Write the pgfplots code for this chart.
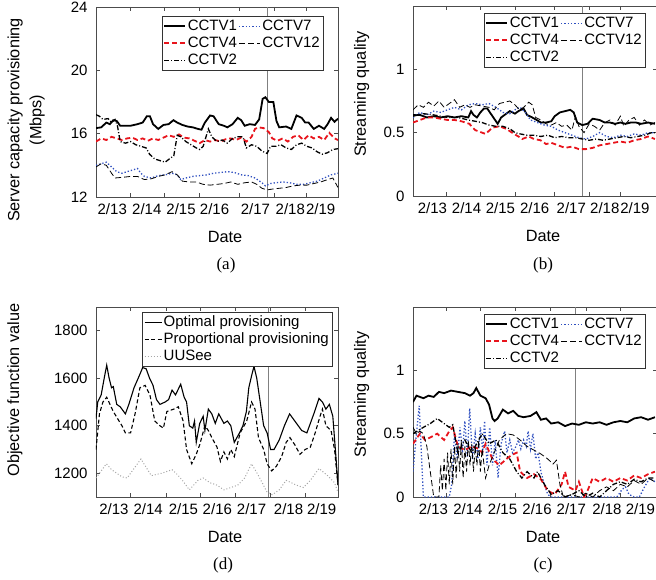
\documentclass[border=0pt]{standalone}
\usepackage{pgfplots}
\pgfplotsset{compat=1.18}
\usepackage{fontspec}
\setmainfont{Liberation Sans}
\newfontfamily\capfont{Liberation Serif}
\definecolor{cred}{HTML}{E8141C}
\definecolor{cblue}{HTML}{3050C0}
\newcommand{\fs}{\fontsize{15}{18}\selectfont}
\newcommand{\fl}{\fontsize{16.3}{19}\selectfont}
\pgfplotsset{
  every axis/.append style={
    scale only axis, width=242pt, height=190pt,
    xmin=0, xmax=7,
    axis line style={black!70, line width=0.6pt},
    tick style={black!70, line width=0.6pt},
    major tick length=4pt, tick align=inside,
    ticklabel style={font=\fs},
    xticklabel style={yshift=-3pt},
    yticklabel style={xshift=-5pt},
    label style={font=\fl},
    /pgf/number format/assume math mode=true,
    /pgf/number format/1000 sep={},
    xticklabels={},
    extra x tick style={major tick length=0pt},
    extra x tick labels={2/13,2/14,2/15,2/16,2/17,2/18,2/19},
    xlabel={Date},
    xlabel style={at={(axis description cs:0.5,0)}, anchor=center, yshift=-40pt, xshift=8pt},
    legend columns=2,
    legend style={font=\fs, draw=black!80, fill=white, inner sep=1.5pt,
      legend cell align=left,
      nodes={inner sep=1.5pt, text height=11pt, text depth=3pt},
      /tikz/every even column/.append style={column sep=0pt}},
    legend image code/.code={\draw[#1] (0pt,0pt) -- (21pt,0pt);},
  },
}
\tikzset{
  s1/.style={black, line width=1.8pt},
  s7/.style={cblue, line width=1.3pt, dotted},
  s4/.style={cred, line width=1.8pt, dash pattern=on 5pt off 3pt},
  s12/.style={black, line width=0.8pt, dash pattern=on 6pt off 3pt},
  s2/.style={black, line width=1.3pt, dash pattern=on 5pt off 2pt on 1pt off 2pt},
  vl/.style={gray, line width=0.7pt},
}
\begin{document}
\begin{tikzpicture}
\path[use as bounding box] (0,0) rectangle (656pt,-580pt);
% ---------------- (a)
\begin{axis}[at={(96pt,-197pt)}, anchor=south west,
  ymin=12, ymax=24, ytick={12,16,20,24},
  xtick={0.98,1.97,2.98,4.14,5.15,6.07},
  extra x ticks={0.47,1.47,2.46,3.43,4.61,5.62,6.50},
  ylabel={Server capacity provisioning\\[3pt](Mbps)},
  ylabel style={at={(axis description cs:-0.289,0.405)}, anchor=center, align=center},
  legend style={at={(1,1)}, anchor=north east, xshift=-15pt, yshift=-9pt},
]
\addplot[vl, forget plot] coordinates {(4.95,12) (4.95,24)};
\addplot[s1] coordinates {(0,16.35) (0.15,16.4) (0.3,16.7) (0.4,16.6) (0.5,16.85) (0.6,16.8) (0.7,16.5) (0.85,16.5) (1.0,16.5) (1.2,16.6) (1.35,16.7) (1.47,17.1) (1.56,17.1) (1.65,16.6) (1.8,16.3) (1.95,16.55) (2.1,16.6) (2.24,16.85) (2.35,16.7) (2.5,16.55) (2.65,16.45) (2.8,16.4) (2.95,16.3) (3.05,16.25) (3.15,16.7) (3.3,17.15) (3.4,17.1) (3.55,16.6) (3.7,16.5) (3.8,16.4) (3.95,16.6) (4.1,17.0) (4.2,16.85) (4.3,16.5) (4.45,16.6) (4.6,16.55) (4.72,16.9) (4.82,18.2) (4.9,18.3) (5.0,18.0) (5.13,18.0) (5.22,16.8) (5.3,16.4) (5.5,16.45) (5.65,16.3) (5.8,17.15) (5.95,17.0) (6.05,16.7) (6.15,16.7) (6.3,16.3) (6.45,16.5) (6.6,16.3) (6.7,16.6) (6.8,17.0) (6.9,16.75) (7.0,16.95)};
\addlegendentry{CCTV1}
\addplot[s7] coordinates {(0,14.0) (0.15,14.1) (0.3,14.2) (0.45,13.9) (0.6,13.6) (0.75,13.5) (0.9,13.6) (1.05,13.7) (1.2,13.8) (1.3,13.5) (1.4,13.3) (1.6,13.2) (1.8,13.35) (2.0,13.4) (2.2,13.5) (2.35,13.4) (2.45,13.1) (2.6,13.2) (2.8,13.3) (3.0,13.35) (3.2,13.4) (3.4,13.5) (3.6,13.55) (3.8,13.6) (4.0,13.55) (4.2,13.4) (4.4,13.35) (4.6,13.2) (4.8,12.9) (4.9,12.7) (5.05,12.85) (5.2,12.9) (5.4,12.95) (5.6,12.9) (5.8,12.8) (6.0,12.8) (6.2,12.9) (6.4,13.0) (6.6,13.2) (6.8,13.4) (7.0,13.5)};
\addlegendentry{CCTV7}
\addplot[s4] coordinates {(0,15.5) (0.15,15.7) (0.3,15.6) (0.45,15.8) (0.6,15.7) (0.75,15.6) (0.9,15.7) (1.05,15.75) (1.2,15.6) (1.35,15.7) (1.5,15.55) (1.65,15.7) (1.8,15.6) (1.95,15.75) (2.1,15.9) (2.25,15.8) (2.4,15.95) (2.55,15.75) (2.7,15.7) (2.85,15.55) (3.0,15.4) (3.15,15.6) (3.3,15.5) (3.45,15.6) (3.6,15.5) (3.75,15.65) (3.9,15.7) (4.05,15.6) (4.2,15.75) (4.35,15.5) (4.5,15.8) (4.6,16.3) (4.7,16.4) (4.85,16.35) (5.0,16.1) (5.1,15.7) (5.25,15.55) (5.4,15.7) (5.55,15.5) (5.7,15.8) (5.85,15.9) (6.0,15.6) (6.15,15.9) (6.3,15.7) (6.45,15.8) (6.6,15.6) (6.75,16.05) (6.9,15.7) (7.0,15.6)};
\addlegendentry{CCTV4}
\addplot[s12] coordinates {(0,13.9) (0.15,14.1) (0.3,14.0) (0.45,13.5) (0.55,13.2) (0.8,13.25) (1.0,13.3) (1.2,13.3) (1.4,13.1) (1.6,13.15) (1.8,13.3) (2.0,13.4) (2.2,13.6) (2.35,13.4) (2.5,13.0) (2.7,12.95) (2.9,12.95) (3.1,12.8) (3.3,12.75) (3.5,12.8) (3.7,12.85) (3.9,12.95) (4.1,12.8) (4.3,12.9) (4.5,12.95) (4.65,12.8) (4.8,12.55) (4.95,12.45) (5.1,12.5) (5.3,12.55) (5.5,12.6) (5.7,12.7) (5.9,12.75) (6.1,12.75) (6.3,12.85) (6.5,12.95) (6.7,13.1) (6.85,13.2) (6.95,12.8) (7.0,12.6)};
\addlegendentry{CCTV12}
\addplot[s2] coordinates {(0,17.2) (0.1,17.1) (0.2,16.9) (0.35,16.95) (0.45,16.7) (0.55,16.9) (0.62,16.5) (0.7,15.5) (0.85,15.4) (1.0,15.5) (1.15,15.3) (1.3,15.2) (1.45,15.1) (1.55,14.7) (1.7,14.4) (1.85,14.3) (2.0,14.2) (2.15,14.45) (2.25,14.6) (2.35,15.9) (2.45,15.8) (2.6,15.5) (2.75,15.3) (2.9,15.1) (3.0,15.0) (3.1,15.2) (3.25,16.3) (3.35,15.8) (3.5,15.5) (3.65,15.6) (3.8,15.4) (3.95,15.7) (4.1,15.8) (4.25,15.8) (4.35,15.1) (4.5,15.3) (4.65,15.2) (4.8,14.9) (4.95,14.75) (5.05,15.2) (5.2,15.2) (5.35,15.3) (5.5,15.1) (5.65,15.0) (5.8,15.3) (5.95,15.4) (6.1,15.2) (6.25,15.1) (6.4,14.85) (6.55,14.7) (6.7,14.8) (6.85,15.0) (7.0,15.05)};
\addlegendentry{CCTV2}
\end{axis}
% ---------------- (b)
\begin{axis}[at={(413pt,-196pt)}, anchor=south west, width=244pt, xmax=7.06,
  ymin=0, ymax=1.5, ytick={0,0.5,1}, yticklabels={0,0.5,1},
  xtick={0.95,1.95,2.96,4.1,5.1,6.0},
  extra x ticks={0.56,1.55,2.53,3.52,4.58,5.55,6.42},
  ylabel={Streaming quality},
  ylabel style={at={(axis description cs:-0.21,0.537)}, anchor=center},
  legend style={at={(1,1)}, anchor=north east, xshift=-12pt, yshift=-7pt},
]
\addplot[vl, forget plot] coordinates {(4.91,0) (4.91,1.5)};
\addplot[s1] coordinates {(0,0.64) (0.2,0.64) (0.4,0.62) (0.6,0.63) (0.8,0.62) (1.0,0.63) (1.2,0.62) (1.4,0.63) (1.6,0.62) (1.68,0.67) (1.75,0.64) (1.85,0.62) (1.95,0.66) (2.05,0.69) (2.15,0.69) (2.3,0.63) (2.45,0.57) (2.55,0.62) (2.7,0.65) (2.8,0.67) (2.95,0.65) (3.05,0.67) (3.2,0.69) (3.3,0.64) (3.45,0.62) (3.58,0.6) (3.7,0.58) (3.85,0.58) (4.0,0.59) (4.1,0.63) (4.25,0.66) (4.4,0.67) (4.55,0.68) (4.65,0.66) (4.75,0.58) (4.9,0.56) (5.05,0.57) (5.2,0.61) (5.4,0.6) (5.55,0.58) (5.7,0.58) (5.85,0.57) (6.0,0.58) (6.15,0.57) (6.3,0.58) (6.45,0.58) (6.6,0.57) (6.8,0.58) (7.0,0.57)};
\addlegendentry{CCTV1}
\addplot[s7] coordinates {(0,0.62) (0.2,0.66) (0.4,0.64) (0.6,0.67) (0.8,0.66) (1.0,0.68) (1.2,0.7) (1.4,0.68) (1.6,0.72) (1.8,0.73) (2.0,0.72) (2.2,0.73) (2.4,0.7) (2.6,0.66) (2.8,0.65) (3.0,0.69) (3.1,0.7) (3.25,0.66) (3.4,0.6) (3.6,0.58) (3.8,0.56) (4.0,0.55) (4.2,0.52) (4.4,0.5) (4.6,0.48) (4.8,0.46) (5.0,0.45) (5.2,0.47) (5.4,0.5) (5.6,0.47) (5.8,0.46) (6.0,0.48) (6.2,0.47) (6.4,0.49) (6.6,0.48) (6.8,0.5) (7.0,0.5)};
\addlegendentry{CCTV7}
\addplot[s4] coordinates {(0,0.58) (0.2,0.6) (0.4,0.62) (0.6,0.62) (0.8,0.61) (1.0,0.6) (1.2,0.6) (1.4,0.59) (1.63,0.57) (1.8,0.52) (2.0,0.5) (2.1,0.49) (2.3,0.54) (2.5,0.55) (2.7,0.53) (2.92,0.49) (3.05,0.47) (3.16,0.45) (3.35,0.47) (3.5,0.45) (3.69,0.44) (3.85,0.41) (4.0,0.42) (4.2,0.4) (4.4,0.38) (4.6,0.39) (4.8,0.37) (5.0,0.37) (5.2,0.38) (5.4,0.4) (5.6,0.41) (5.8,0.42) (6.0,0.43) (6.2,0.42) (6.4,0.44) (6.6,0.45) (6.8,0.47) (7.0,0.45)};
\addlegendentry{CCTV4}
\addplot[s12] coordinates {(0,0.68) (0.15,0.72) (0.3,0.7) (0.45,0.74) (0.6,0.71) (0.75,0.75) (0.9,0.7) (1.05,0.73) (1.2,0.76) (1.35,0.7) (1.5,0.72) (1.65,0.7) (1.8,0.72) (2.0,0.71) (2.2,0.7) (2.35,0.68) (2.5,0.73) (2.65,0.74) (2.8,0.75) (2.95,0.72) (3.08,0.68) (3.2,0.7) (3.35,0.74) (3.45,0.72) (3.55,0.62) (3.7,0.6) (3.85,0.57) (4.0,0.56) (4.15,0.58) (4.3,0.55) (4.45,0.56) (4.6,0.52) (4.7,0.63) (4.8,0.55) (4.95,0.5) (5.1,0.57) (5.25,0.55) (5.4,0.52) (5.55,0.58) (5.7,0.6) (5.85,0.56) (6.0,0.63) (6.1,0.55) (6.25,0.6) (6.4,0.62) (6.55,0.56) (6.7,0.6) (6.85,0.56) (7.0,0.58)};
\addlegendentry{CCTV12}
\addplot[s2] coordinates {(0,0.63) (0.3,0.65) (0.6,0.64) (1.0,0.62) (1.3,0.62) (1.6,0.6) (2.0,0.58) (2.2,0.56) (2.4,0.55) (2.6,0.55) (2.81,0.53) (2.95,0.5) (3.1,0.49) (3.3,0.48) (3.5,0.48) (3.7,0.47) (3.9,0.48) (4.1,0.46) (4.3,0.47) (4.5,0.46) (4.7,0.46) (4.9,0.45) (5.1,0.44) (5.3,0.45) (5.5,0.44) (5.7,0.45) (5.9,0.46) (6.1,0.47) (6.3,0.46) (6.5,0.47) (6.7,0.48) (6.9,0.5) (7.0,0.5)};
\addlegendentry{CCTV2}
\end{axis}
% ---------------- (d)
\begin{axis}[at={(96pt,-497pt)}, anchor=south west,
  ymin=1100, ymax=1900, ytick={1200,1400,1600,1800},
  xtick={1.0,2.02,3.03,4.03,5.05,6.05},
  extra x ticks={0.52,1.51,2.53,3.51,4.50,5.57,6.53},
  ylabel={Objective function value},
  ylabel style={at={(axis description cs:-0.335,0.563)}, anchor=center},
  legend columns=1,
  legend style={at={(1,1)}, anchor=north east, xshift=-6pt, yshift=-5pt},
  legend image code/.code={\draw[#1] (0pt,0pt) -- (17pt,0pt);},
]
\addplot[vl, forget plot] coordinates {(4.99,1100) (4.99,1900)};
\addplot[black, line width=1.1pt] coordinates {(0,1430) (0.05,1500) (0.15,1530) (0.25,1610) (0.31,1655) (0.38,1600) (0.45,1560) (0.5,1565) (0.6,1490) (0.7,1480) (0.85,1450) (0.95,1490) (1.1,1560) (1.25,1610) (1.35,1645) (1.45,1640) (1.55,1600) (1.65,1570) (1.75,1510) (1.85,1490) (2.0,1500) (2.1,1510) (2.2,1550) (2.3,1530) (2.45,1575) (2.55,1520) (2.62,1500) (2.7,1400) (2.8,1390) (2.85,1420) (2.9,1330) (3.0,1410) (3.1,1440) (3.15,1380) (3.25,1470) (3.35,1450) (3.45,1410) (3.55,1450) (3.7,1410) (3.8,1420) (3.9,1400) (4.0,1330) (4.15,1370) (4.25,1400) (4.35,1460) (4.42,1560) (4.5,1610) (4.57,1650) (4.65,1600) (4.75,1500) (4.85,1400) (4.95,1370) (5.05,1300) (5.15,1300) (5.3,1340) (5.45,1400) (5.6,1450) (5.75,1420) (5.95,1380) (6.1,1370) (6.3,1450) (6.45,1515) (6.55,1500) (6.65,1470) (6.75,1490) (6.85,1440) (6.95,1250) (7.0,1150)};
\addlegendentry{Optimal provisioning}
\addplot[black, line width=1.1pt, dash pattern=on 4pt off 2.5pt] coordinates {(0,1300) (0.1,1450) (0.2,1500) (0.31,1520) (0.5,1460) (0.75,1400) (0.85,1370) (1.0,1370) (1.13,1450) (1.27,1560) (1.42,1570) (1.56,1530) (1.7,1420) (1.85,1400) (1.95,1390) (2.05,1460) (2.25,1470) (2.38,1480) (2.52,1420) (2.62,1300) (2.77,1240) (2.9,1280) (3.0,1320) (3.15,1400) (3.25,1380) (3.35,1350) (3.5,1310) (3.6,1250) (3.7,1290) (3.8,1260) (3.9,1300) (4.0,1270) (4.17,1370) (4.36,1420) (4.5,1500) (4.6,1470) (4.7,1350) (4.85,1300) (4.95,1240) (5.08,1210) (5.22,1230) (5.37,1270) (5.5,1330) (5.61,1350) (5.75,1320) (5.9,1280) (6.05,1300) (6.2,1310) (6.34,1370) (6.48,1440) (6.55,1470) (6.65,1400) (6.8,1380) (6.9,1300) (7.0,1150)};
\addlegendentry{Proportional provisioning}
\addplot[black!35, line width=1pt, dotted] coordinates {(0,1180) (0.15,1210) (0.3,1240) (0.45,1215) (0.6,1200) (0.75,1185) (0.9,1180) (1.1,1220) (1.3,1260) (1.45,1225) (1.6,1190) (1.9,1200) (2.2,1215) (2.35,1195) (2.5,1170) (2.7,1130) (2.95,1170) (3.1,1180) (3.3,1160) (3.5,1150) (3.7,1130) (3.9,1140) (4.1,1150) (4.3,1180) (4.5,1240) (4.7,1190) (4.95,1120) (5.1,1110) (5.3,1130) (5.5,1170) (5.8,1150) (6.0,1140) (6.2,1170) (6.45,1220) (6.7,1190) (6.9,1160) (7.0,1120)};
\addlegendentry{UUSee}
\end{axis}
% ---------------- (c)
\begin{axis}[at={(413pt,-497pt)}, anchor=south west, width=244pt, xmax=7.06,
  ymin=0, ymax=1.5, ytick={0,0.5,1}, yticklabels={0,0.5,1},
  xtick={0.95,1.95,2.96,3.97,5.0,6.0},
  extra x ticks={0.59,1.59,2.59,3.59,4.58,5.61,6.58},
  ylabel={Streaming quality},
  ylabel style={at={(axis description cs:-0.21,0.54)}, anchor=center},
  legend style={at={(1,1)}, anchor=north east, xshift=-12pt, yshift=-7pt},
]
\addplot[vl, forget plot] coordinates {(4.69,0) (4.69,1.5)};
\addplot[s1] coordinates {(0,0.75) (0.1,0.8) (0.3,0.78) (0.45,0.8) (0.6,0.79) (0.75,0.83) (0.9,0.82) (1.1,0.84) (1.3,0.83) (1.5,0.82) (1.65,0.8) (1.75,0.82) (1.83,0.86) (1.95,0.8) (2.1,0.78) (2.2,0.73) (2.3,0.62) (2.36,0.6) (2.45,0.62) (2.6,0.69) (2.75,0.66) (2.9,0.68) (3.05,0.64) (3.2,0.63) (3.4,0.64) (3.57,0.67) (3.7,0.61) (3.85,0.62) (4.0,0.58) (4.2,0.59) (4.4,0.56) (4.6,0.58) (4.8,0.57) (5.0,0.59) (5.2,0.58) (5.4,0.59) (5.6,0.57) (5.8,0.59) (6.0,0.6) (6.2,0.59) (6.4,0.62) (6.6,0.63) (6.8,0.61) (7.0,0.63)};
\addlegendentry{CCTV1}
\addplot[s7] coordinates {(0,0.2) (0.1,0.5) (0.18,0.72) (0.25,0.3) (0.3,0.0) (1.05,0.0) (1.12,0.1) (1.2,0.5) (1.28,0.3) (1.36,0.55) (1.43,0.35) (1.5,0.6) (1.57,0.32) (1.64,0.7) (1.72,0.3) (1.8,0.5) (1.88,0.3) (1.95,0.55) (2.02,0.35) (2.07,0.6) (2.14,0.25) (2.22,0.55) (2.3,0.25) (2.38,0.45) (2.46,0.15) (2.55,0.42) (2.65,0.52) (2.72,0.35) (2.8,0.45) (2.88,0.35) (2.98,0.4) (3.05,0.45) (3.12,0.38) (3.2,0.45) (3.28,0.4) (3.33,0.52) (3.4,0.38) (3.47,0.5) (3.55,0.3) (3.62,0.35) (3.7,0.2) (3.8,0.1) (3.9,0.02) (4.0,0.0) (5.9,0.0) (6.05,0.06) (6.15,0.08) (6.25,0.02) (6.4,0.0) (6.55,0.0) (6.7,0.08) (6.85,0.15) (7.0,0.12)};
\addlegendentry{CCTV7}
\addplot[s4] coordinates {(0,0.42) (0.2,0.5) (0.35,0.45) (0.5,0.47) (0.7,0.5) (0.9,0.45) (1.05,0.52) (1.15,0.55) (1.3,0.4) (1.5,0.37) (1.7,0.4) (1.9,0.38) (2.0,0.35) (2.1,0.42) (2.3,0.3) (2.5,0.25) (2.7,0.3) (2.85,0.33) (3.0,0.35) (3.1,0.2) (3.3,0.15) (3.5,0.18) (3.7,0.14) (3.9,0.05) (4.1,0.02) (4.3,0.1) (4.4,0.2) (4.5,0.08) (4.7,0.05) (4.8,0.12) (4.95,0.0) (5.05,0.05) (5.2,0.15) (5.4,0.12) (5.6,0.15) (5.8,0.12) (6.0,0.15) (6.2,0.13) (6.4,0.17) (6.6,0.15) (6.8,0.18) (7.0,0.2)};
\addlegendentry{CCTV4}
\addplot[s12] coordinates {(0,0.55) (0.1,0.5) (0.2,0.52) (0.3,0.5) (0.4,0.4) (0.5,0.2) (0.6,0.0) (0.75,0.0) (0.8,0.25) (0.85,0.05) (0.9,0.3) (0.95,0.05) (1.0,0.35) (1.05,0.1) (1.1,0.38) (1.15,0.1) (1.2,0.4) (1.25,0.15) (1.3,0.42) (1.35,0.2) (1.4,0.45) (1.45,0.15) (1.5,0.4) (1.55,0.2) (1.6,0.45) (1.65,0.25) (1.7,0.42) (1.75,0.2) (1.8,0.4) (1.85,0.25) (1.9,0.45) (1.95,0.2) (2.0,0.38) (2.1,0.15) (2.2,0.25) (2.35,0.35) (2.5,0.45) (2.7,0.5) (2.9,0.49) (3.1,0.45) (3.3,0.4) (3.5,0.37) (3.7,0.34) (3.9,0.3) (4.05,0.26) (4.15,0.29) (4.25,0.1) (4.35,0.0) (4.6,0.02) (4.8,0.0) (5.0,0.03) (5.2,0.0) (5.4,0.05) (5.6,0.08) (5.8,0.05) (6.0,0.1) (6.2,0.08) (6.4,0.13) (6.6,0.1) (6.8,0.15) (7.0,0.12)};
\addlegendentry{CCTV12}
\addplot[s2] coordinates {(0,0.5) (0.3,0.55) (0.5,0.58) (0.7,0.62) (0.9,0.58) (1.05,0.55) (1.15,0.57) (1.3,0.35) (1.5,0.45) (1.7,0.35) (1.9,0.45) (2.0,0.5) (2.2,0.42) (2.4,0.45) (2.6,0.35) (2.8,0.3) (3.0,0.2) (3.15,0.15) (3.3,0.2) (3.5,0.15) (3.6,0.2) (3.8,0.1) (4.0,0.02) (4.2,0.05) (4.4,0.0) (4.6,0.02) (4.8,0.05) (5.0,0.0) (5.2,0.03) (5.4,0.0) (5.6,0.05) (5.8,0.1) (6.0,0.12) (6.2,0.1) (6.4,0.14) (6.6,0.12) (6.8,0.15) (7.0,0.15)};
\addlegendentry{CCTV2}
\end{axis}
% captions
\node[font=\capfont\fontsize{17}{20}\selectfont] at (226pt,-265pt) {(a)};
\node[font=\capfont\fontsize{17}{20}\selectfont] at (543pt,-265pt) {(b)};
\node[font=\capfont\fontsize{17}{20}\selectfont] at (223pt,-565pt) {(d)};
\node[font=\capfont\fontsize{17}{20}\selectfont] at (543pt,-565pt) {(c)};
\end{tikzpicture}
\end{document}
